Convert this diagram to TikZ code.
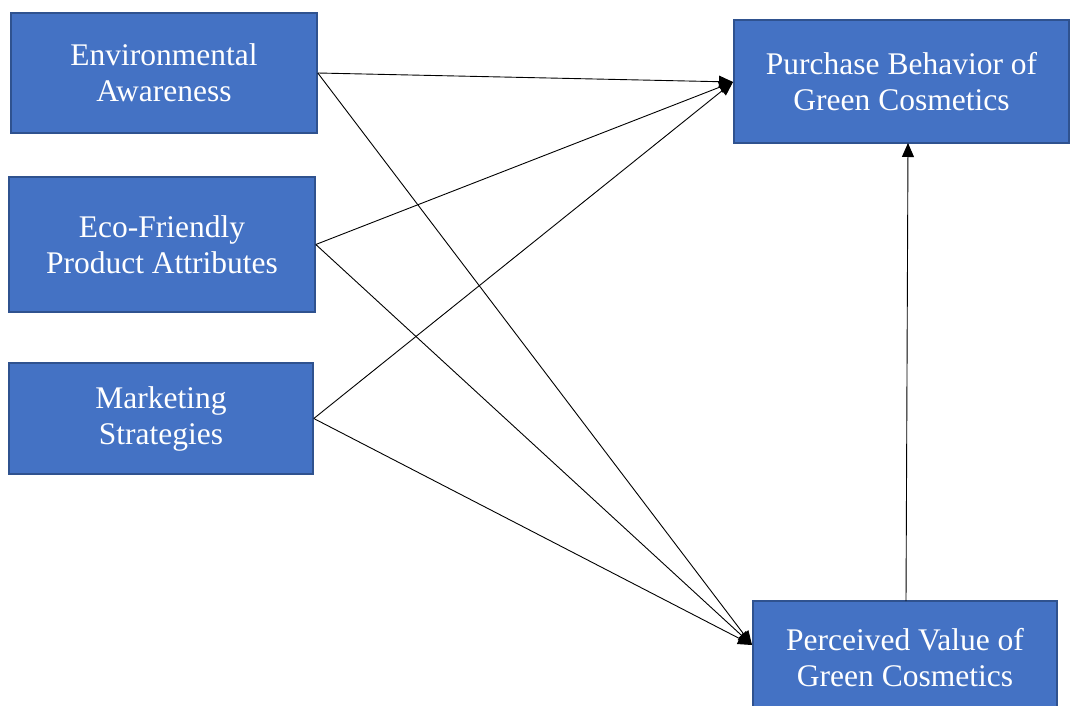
\documentclass[tikz,border=0pt]{standalone}
\usepackage{fontspec}
\setmainfont{Liberation Serif}
\usetikzlibrary{arrows.meta}
\definecolor{boxfill}{HTML}{4472C4}
\definecolor{boxline}{HTML}{2F528F}
\begin{document}
\begin{tikzpicture}[x=1pt,y=-1pt,
  varbox/.style={draw=boxline, line width=1.6pt, fill=boxfill, text=white,
    align=center, inner sep=0pt, font=\fontsize{31.5}{36}\selectfont},
  link/.style={line width=0.9pt, -{Triangle[length=14pt,width=12pt]}}]
\useasboundingbox (0,0) rectangle (1070,706);
\node[varbox, minimum width=306pt, minimum height=120pt] (ea) at (164,73) {Environmental\\Awareness};
\node[varbox, minimum width=306pt, minimum height=135pt] (ef) at (162,244.5) {Eco-Friendly\\Product Attributes};
\node[varbox, minimum width=304pt, minimum height=111pt] (ms) at (161,418.5) {Marketing\\Strategies};
\node[varbox, minimum width=335pt, minimum height=123pt] (pb) at (901.5,81.5) {Purchase Behavior of\\Green Cosmetics};
\node[varbox, minimum width=304pt, minimum height=113pt] (pv) at (905,657.5) {Perceived Value of\\Green Cosmetics};
\coordinate (pbin) at (733,82);
\coordinate (pvin) at (752,645);
\coordinate (pvout) at (906,601);
\coordinate (pbbot) at (908,143);
\draw[link] (ea.east) -- (pbin);
\draw[link] (ea.east) -- (pvin);
\draw[link] (ef.east) -- (pbin);
\draw[link] (ef.east) -- (pvin);
\draw[link] (ms.east) -- (pbin);
\draw[link] (ms.east) -- (pvin);
\draw[link] (pvout) -- (pbbot);
\end{tikzpicture}
\end{document}
